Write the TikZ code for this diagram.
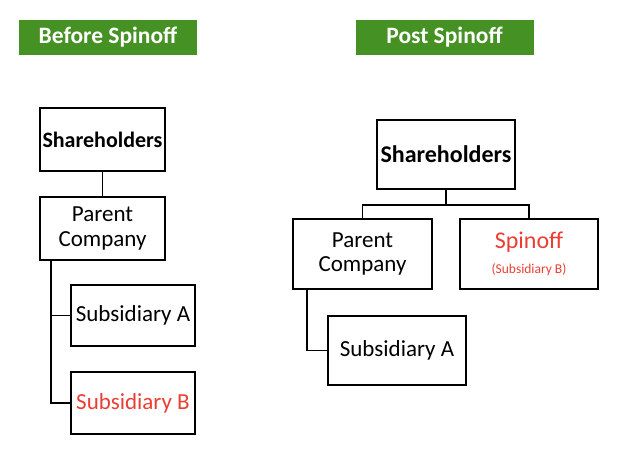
\documentclass[tikz,border=0pt]{standalone}
\usepackage{fontspec}
\setmainfont{Carlito}
\definecolor{bannergreen}{RGB}{70,145,36}
\definecolor{spinred}{RGB}{234,62,50}
\begin{document}
\begin{tikzpicture}[x=1pt, y=-1pt,
    banner/.style={fill=bannergreen, text=white, font=\fontsize{23.5}{25}\selectfont\bfseries, minimum width=178pt, minimum height=35pt, inner sep=0pt},
    box/.style={draw, line width=2.4pt, align=center, inner sep=0pt, font=\fontsize{23}{24.5}\selectfont},
    link/.style={line width=1.5pt}]
    \useasboundingbox (0,0) rectangle (620,452);
    % titles
    \node[banner] (before) at (108,37.5) {Before Spinoff};
    \node[banner] (post) at (444.5,37.5) {Post Spinoff};
    % before
    \node[box, minimum width=125pt, minimum height=63pt, font=\fontsize{22}{24}\selectfont\bfseries] (sh1) at (102.5,139.5) {Shareholders};
    \node[box, minimum width=125pt, minimum height=63pt] (pc1) at (102.5,228.5) {Parent\\Company};
    \node[box, minimum width=124pt, minimum height=61pt] (suba1) at (133,315.5) {Subsidiary A};
    \node[box, minimum width=124pt, minimum height=62pt, text=spinred] (subb1) at (133,403) {Subsidiary B};
    \draw[link] (sh1.south) -- (pc1.north);
    \draw[link] (pc1.south west) ++(12,0) |- (suba1.west);
    \draw[link] (pc1.south west) ++(12,0) |- (subb1.west);
    % post
    \node[box, minimum width=138pt, minimum height=69pt, font=\fontsize{24}{26}\selectfont\bfseries] (sh2) at (446,154.5) {Shareholders};
    \node[box, minimum width=139pt, minimum height=70pt] (pc2) at (362.5,254) {Parent\\Company};
    \node[box, minimum width=138pt, minimum height=70pt, text=spinred] (spin) at (529,254) {{\fontsize{24}{26}\selectfont Spinoff}\\{\fontsize{13.5}{16}\selectfont (Subsidiary B)}};
    \node[box, minimum width=138pt, minimum height=69pt] (suba2) at (397,350.5) {Subsidiary A};
    \draw[link] (sh2.south) -- ++(0,15) -| (pc2.north);
    \draw[link] (sh2.south) -- ++(0,15) -| (spin.north);
    \draw[link] (pc2.south west) ++(15,0) |- (suba2.west);
\end{tikzpicture}
\end{document}
